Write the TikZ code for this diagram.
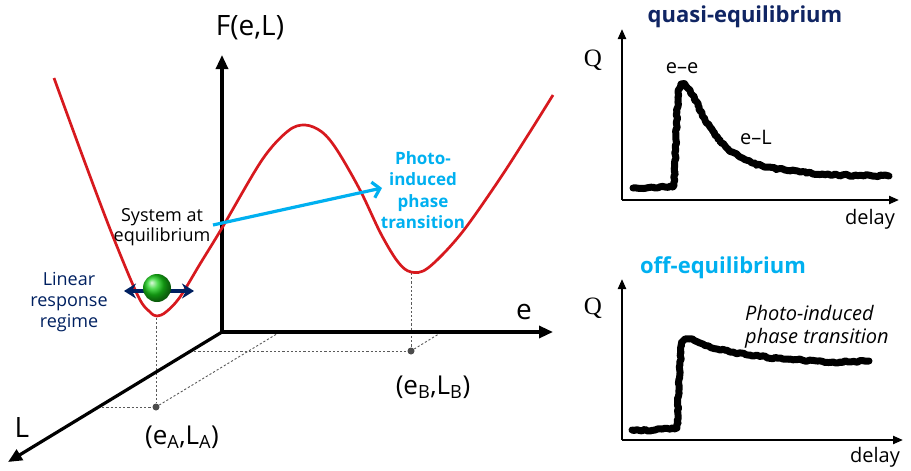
\documentclass[tikz,border=0pt]{standalone}
\usepackage{fontspec}
\setmainfont{Open Sans}
\newfontfamily\serifQ{Liberation Serif}
\usetikzlibrary{arrows.meta,decorations.pathmorphing}
\definecolor{navyA}{RGB}{0,32,96}
\definecolor{navyB}{RGB}{16,37,99}
\definecolor{cyanA}{RGB}{0,176,240}
\definecolor{curveRed}{RGB}{215,25,30}
\definecolor{guideGray}{RGB}{90,90,90}
\begin{document}
\begin{tikzpicture}[x=1pt,y=-1pt,
  axis/.style={line width=3.2pt,-{Triangle[length=14pt,width=12pt]}},
  smallaxis/.style={line width=2.2pt,-{Triangle[length=10pt,width=8pt]}},
  guide/.style={guideGray,line width=0.9pt,dash pattern=on 2.2pt off 2pt},
  energy/.style={curveRed,line width=2.7pt},
  trace/.style={line width=7pt,line cap=round,line join=round,decorate,
    decoration={random steps,segment length=2.5pt,amplitude=1pt}},
  dot/.style={circle,fill=black!70,inner sep=0pt,minimum size=7pt},
  big/.style={font=\fontsize{28}{30}\selectfont,inner sep=0pt},
  mid/.style={font=\fontsize{18}{20}\selectfont,align=center,inner sep=0pt},
  small/.style={font=\fontsize{20}{22}\selectfont,inner sep=0pt},
  title/.style={font=\bfseries\fontsize{22}{24}\selectfont,inner sep=0pt},
  qlab/.style={font=\serifQ\fontsize{25}{27}\selectfont,inner sep=0pt}]
\useasboundingbox (0,0) rectangle (911,471);
\pgfmathsetseed{11}

% ---------- 3D axes ----------
\coordinate (O) at (222,332);
\coordinate (Ftip) at (222,55);
\coordinate (etip) at (553,332);
\coordinate (Ltip) at (8,462);

% guide lines
\coordinate (minA) at (156,318);
\coordinate (minB) at (411,273);
\node[dot] (A) at (156,407) {};
\node[dot] (B) at (411,351) {};
\coordinate (LA) at (98,407);
\coordinate (eA) at (280,332);
\coordinate (LB) at (190,351);
\coordinate (eB) at (442,332);
\draw[guide] (minA) -- (A);
\draw[guide] (LA) -- (A);
\draw[guide] (A) -- (eA);
\draw[guide] (minB) -- (B);
\draw[guide] (LB) -- (B);
\draw[guide] (B) -- (eB);

\draw[axis] (O) -- (Ftip);
\draw[axis] (O) -- (etip);
\draw[axis] (O) -- (Ltip);

\node[big] (Flab) at (250,28) {F(e,L)};
\node[big] (elab) at (524,312) {e};
\node[big] (Llab) at (22,428) {L};
\node[big,font=\fontsize{26}{28}\selectfont] (Alab) at (182,437) {(e\textsubscript{A},L\textsubscript{A})};
\node[big,font=\fontsize{26}{28}\selectfont] (Blab) at (433,387) {(e\textsubscript{B},L\textsubscript{B})};

% energy landscape
\draw[energy] plot[smooth,tension=0.55] coordinates {
  (54,78) (84,160) (112,234) (138,296) (150,312) (157,316) (166,312) (180,297)
  (200,264) (222,228) (262,160) (288,131) (305,125) (322,132) (337,150)
  (360,190) (381,234) (398,262) (411,272) (428,268) (460,235) (497,183)
  (528,135) (553,95)};

% ball and double arrow
\coordinate (baL) at (124,291);
\coordinate (baR) at (194,291);
\draw[navyA,line width=3.5pt,{Stealth[length=12pt,width=15pt,inset=4pt]}-{Stealth[length=12pt,width=15pt,inset=4pt]}] (baL) -- (baR);
\shade[ball color=green!80!black!90] (157,288) circle (14);

% labels
\node[mid] (sys) at (162,227) {System at\\equilibrium};
\node[mid,navyA,font=\fontsize{18}{21}\selectfont] (lin) at (69,302) {Linear\\response\\regime};
\node[mid,cyanA,font=\bfseries\fontsize{17}{21.5}\selectfont] (pipt) at (423,190) {Photo-\\induced\\phase\\transition};
\coordinate (arrStart) at (213,225);
\coordinate (arrEnd) at (382,188);
\draw[cyanA,line width=3.2pt,-{Straight Barb[length=7pt,width=16pt]}] (arrStart) -- (arrEnd);

% ---------- quasi-equilibrium panel ----------
\node[title,navyB] (qtitle) at (745,17) {quasi-equilibrium};
\coordinate (C1) at (622,200);
\coordinate (C1up) at (622,29);
\coordinate (C1right) at (899,200);
\draw[smallaxis] (C1) -- (C1up);
\draw[smallaxis] (C1) -- (C1right);
\node[qlab] (Q1) at (593,60) {Q};
\node[small] (d1) at (870,219) {delay};
\node[small] (ee) at (682,68) {e–e};
\node[small] (eL) at (756,137) {e–L};
\draw[trace] (633,188) -- (655,188) -- (674,186) -- (676,140) -- (678,92)
  -- (681,84) -- (685,84) -- (690,90) -- (696,101) -- (702,114) -- (710,127)
  -- (718,139) -- (728,149) -- (740,157) -- (752,163) -- (767,167)
  -- (785,170) -- (800,172) -- (833,175) -- (889,176);

% ---------- off-equilibrium panel ----------
\node[title,cyanA] (otitle) at (723,268) {off-equilibrium};
\coordinate (C2) at (622,440);
\coordinate (C2up) at (622,279);
\coordinate (C2right) at (903,440);
\draw[smallaxis] (C2) -- (C2up);
\draw[smallaxis] (C2) -- (C2right);
\node[qlab] (Q2) at (593,308) {Q};
\node[small] (d2) at (875,457) {delay};
\node[small,font=\itshape\fontsize{20}{23}\selectfont,align=left,anchor=west] (pit) at (745,327) {Photo-induced\\phase transition};
\draw[trace] (632,430) -- (655,430) -- (677,428) -- (679,385) -- (681,343)
  -- (685,339) -- (690,339) -- (703,344) -- (717,349) -- (733,352)
  -- (750,355) -- (783,359) -- (833,362) -- (869,361);
\end{tikzpicture}
\end{document}
